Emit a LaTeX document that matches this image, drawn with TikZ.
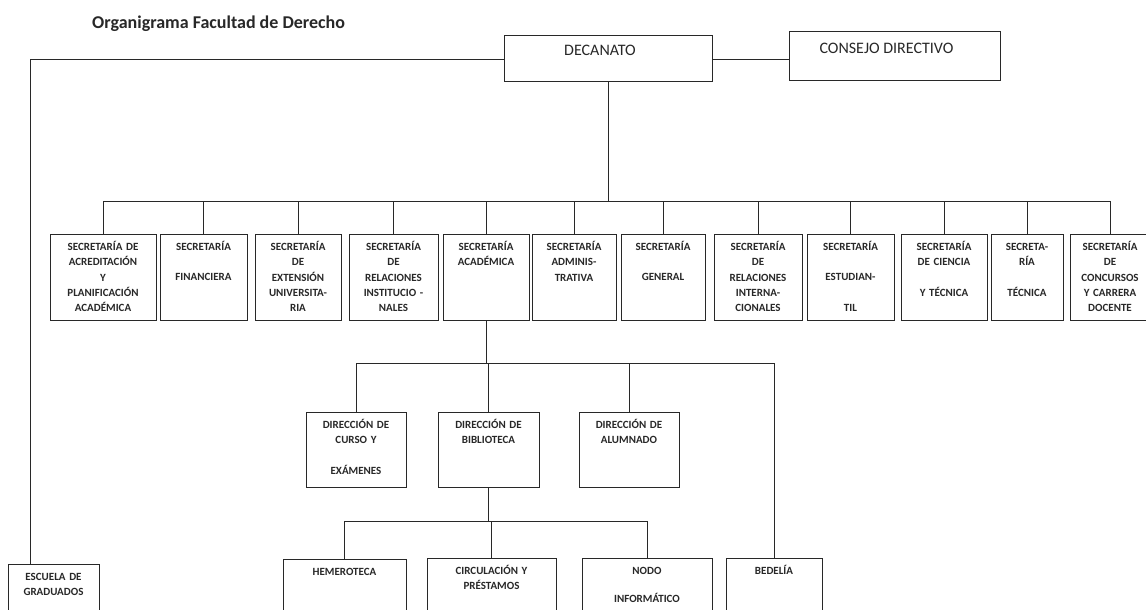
\documentclass[tikz,border=0pt]{standalone}
\usepackage{fontspec}
\setmainfont{Carlito}
\definecolor{ink}{RGB}{40,40,40}
\tikzset{
  unit/.style 2 args={draw=ink, line width=1pt, anchor=north west,
    minimum width=#1pt, minimum height=#2pt, inner sep=0pt, outer sep=0pt},
  unittext/.style={anchor=base, yshift=-16.5pt, text width=100pt, align=center, inner sep=0pt,
    text=ink, font=\fontsize{11}{15.3}\selectfont\bfseries},
  toptext/.style={anchor=base, yshift=-20pt, xshift=-8pt, inner sep=0pt,
    text=ink, font=\fontsize{16}{19}\selectfont},
  link/.style={draw=ink, line width=0.9pt}
}
\begin{document}
\begin{tikzpicture}[x=1pt,y=-1pt]
  \useasboundingbox (0,0) rectangle (1146,610);
  \fill[white] (0,0) rectangle (1146,610);
  \clip (0,0) rectangle (1146,610);

  \node (title) [anchor=base west, inner sep=0pt, text=ink,
    font=\fontsize{18}{21}\selectfont\bfseries] at (92,29) {Organigrama Facultad de Derecho};

  % top
  \node (dec) [unit={208}{46}, label={[toptext]north:DECANATO}] at (504,36) {};
  \node (cons) [unit={211}{49}, label={[toptext, yshift=-2pt]north:CONSEJO DIRECTIVO}] at (789,32) {};

  % secretarias
  \node (acred) [unit={106}{86}, label={[unittext]north:SECRETARÍA DE\\ACREDITACIÓN\\Y\\PLANIFICACIÓN\\ACADÉMICA}] at (50,234) {};
  \node (fin) [unit={87}{86}, label={[unittext]north:SECRETARÍA\\[15pt]FINANCIERA}] at (160,234) {};
  \node (ext) [unit={86}{86}, label={[unittext]north:SECRETARÍA\\DE\\EXTENSIÓN\\UNIVERSITA-\\RIA}] at (255,234) {};
  \node (relinst) [unit={89}{86}, label={[unittext]north:SECRETARÍA\\DE\\RELACIONES\\INSTITUCIO -\\NALES}] at (349,234) {};
  \node (acad) [unit={86}{86}, label={[unittext]north:SECRETARÍA\\ACADÉMICA}] at (443,234) {};
  \node (admin) [unit={84}{86}, label={[unittext]north:SECRETARÍA\\ADMINIS-\\TRATIVA}] at (532,234) {};
  \node (gral) [unit={84}{86}, label={[unittext]north:SECRETARÍA\\[15pt]GENERAL}] at (621,234) {};
  \node (relint) [unit={88}{86}, label={[unittext]north:SECRETARÍA\\DE\\RELACIONES\\INTERNA-\\CIONALES}] at (714,234) {};
  \node (estud) [unit={87}{86}, label={[unittext]north:SECRETARÍA\\[15pt]ESTUDIAN-\\[15pt]TIL}] at (807,234) {};
  \node (cyt) [unit={86}{86}, label={[unittext]north:SECRETARÍA\\DE CIENCIA\\[15pt]Y TÉCNICA}] at (901,234) {};
  \node (tec) [unit={72}{86}, label={[unittext]north:SECRETA-\\RÍA\\[15pt]TÉCNICA}] at (991,234) {};
  \node (conc) [unit={80}{86}, label={[unittext]north:SECRETARÍA\\DE\\CONCURSOS\\Y CARRERA\\DOCENTE}] at (1070,234) {};

  % direcciones
  \node (dircur) [unit={100}{75}, label={[unittext]north:DIRECCIÓN DE\\CURSO Y\\[15pt]EXÁMENES}] at (306,412) {};
  \node (dirbib) [unit={101}{75}, label={[unittext]north:DIRECCIÓN DE\\BIBLIOTECA}] at (438,412) {};
  \node (diralu) [unit={100}{75}, label={[unittext]north:DIRECCIÓN DE\\ALUMNADO}] at (579,412) {};

  % bottom row
  \node (hemero) [unit={123}{70}, label={[unittext]north:HEMEROTECA}] at (283,559) {};
  \node (circ) [unit={129}{70}, label={[unittext]north:CIRCULACIÓN Y\\PRÉSTAMOS}] at (427,558) {};
  \node (nodo) [unit={130}{70}, label={[unittext]north:NODO\\[13pt]INFORMÁTICO}] at (582,558) {};
  \node (bedel) [unit={96}{70}, label={[unittext]north:BEDELÍA}] at (726,558) {};
  \node (escuela) [unit={91}{70}, label={[unittext]north:ESCUELA DE\\GRADUADOS}] at (8,564) {};

  \draw[link] (dec.east) -- (dec.east -| cons.west);
  \draw[link] (dec.west) -| ([xshift=22pt]escuela.north west);

  \coordinate (secbus) at (608,201);
  \draw[link] (dec.south) -- (secbus);
  \draw[link] (acred.north |- secbus) -- (conc.north |- secbus);
  \foreach \s in {acred,fin,ext,relinst,acad,admin,gral,relint,estud,cyt,tec,conc}
    \draw[link] (\s.north) -- (\s.north |- secbus);

  \coordinate (acadbus) at (486,363);
  \draw[link] (acad.south) -- (acadbus);
  \draw[link] (dircur.north |- acadbus) -- (bedel.north |- acadbus);
  \foreach \d in {dircur,dirbib,diralu,bedel}
    \draw[link] (\d.north) -- (\d.north |- acadbus);

  \coordinate (bibbus) at (488,521);
  \draw[link] (dirbib.south) -- (dirbib.south |- bibbus);
  \draw[link] (hemero.north |- bibbus) -- (nodo.north |- bibbus);
  \foreach \b in {hemero,circ,nodo}
    \draw[link] (\b.north) -- (\b.north |- bibbus);
\end{tikzpicture}
\end{document}
